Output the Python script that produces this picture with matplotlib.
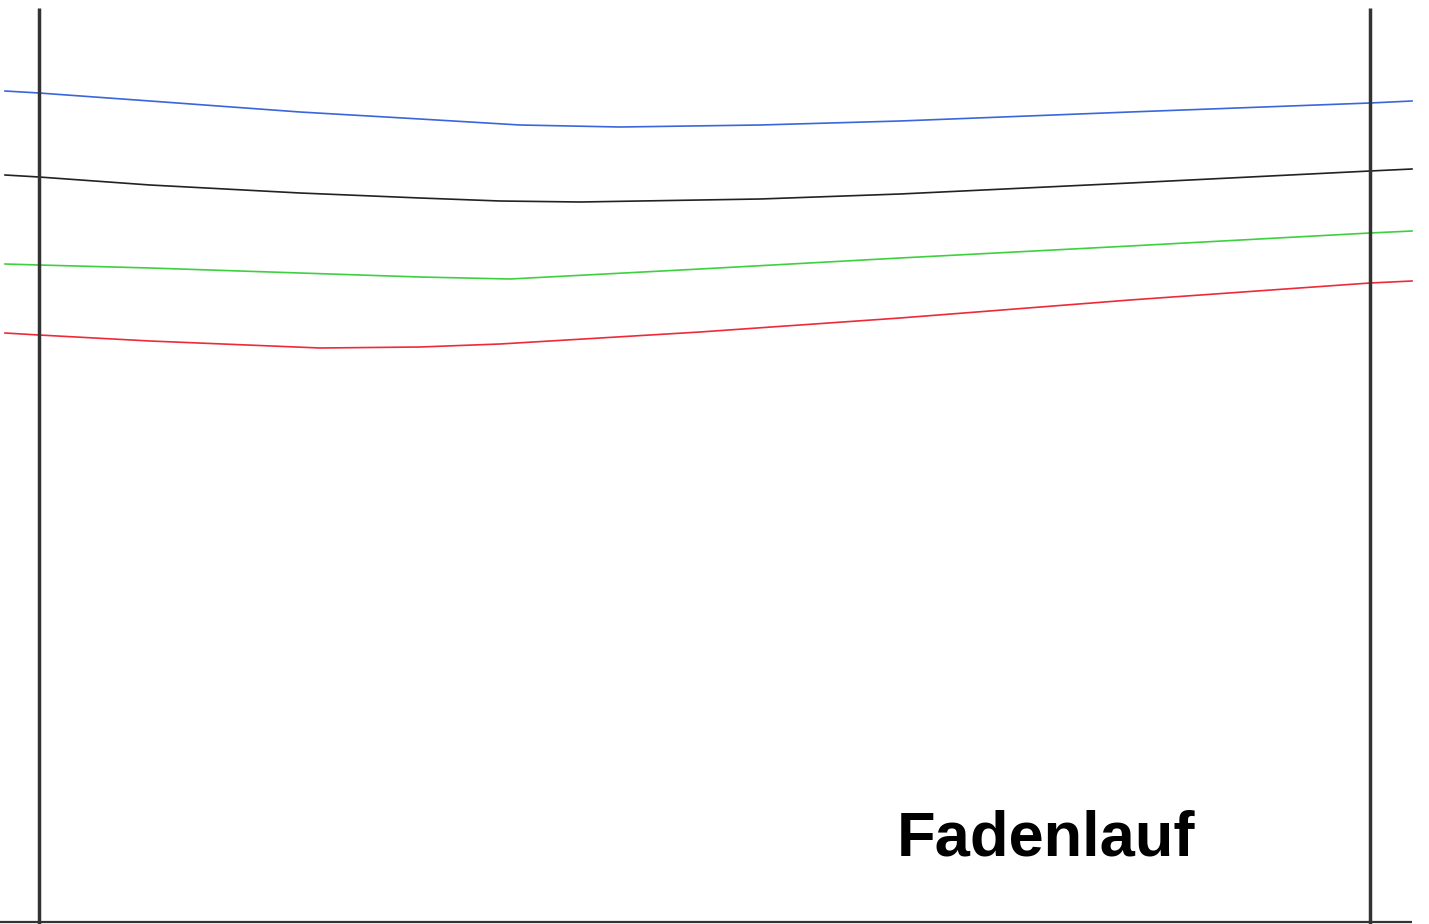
import matplotlib.pyplot as plt

# thread lines (x, y in pixel units, y downwards)
blue_x = [5, 39, 150, 300, 420, 520, 620, 760, 900, 1130, 1370, 1412]
blue_y = [91, 93, 101, 112, 119, 125, 127, 125, 121, 112, 103, 101]
black_x = [5, 39, 150, 300, 420, 500, 580, 760, 900, 1130, 1370, 1412]
black_y = [175, 177, 185, 193, 198, 201, 202, 199, 194, 183, 171, 169]
green_x = [5, 39, 150, 300, 420, 510, 700, 900, 1130, 1370, 1412]
green_y = [264, 265, 268, 273, 277, 279, 269, 258, 246, 233, 231]
red_x = [5, 39, 150, 320, 420, 500, 700, 900, 1130, 1370, 1412]
red_y = [333, 335, 341, 348, 347, 344, 332, 318, 300, 283, 281]

# frame
edge_x = [39, 1370]
edge_top = 8
bottom_y = 922
label = "Fadenlauf"

fig = plt.figure(figsize=(14.29, 9.24), dpi=100)
ax = fig.add_axes([0, 0, 1, 1])
ax.set_xlim(0, 1429)
ax.set_ylim(924, 0)
ax.axis("off")

ax.plot(blue_x, blue_y, color="#3a66dc", lw=1.2)
ax.plot(black_x, black_y, color="#222222", lw=1.2)
ax.plot(green_x, green_y, color="#3fd040", lw=1.2)
ax.plot(red_x, red_y, color="#ee2a38", lw=1.2)

for x in edge_x:
    ax.plot([x, x], [edge_top, 924], color="#333333", lw=2.5, solid_capstyle="butt")
ax.plot([0, 1412], [bottom_y, bottom_y], color="#333333", lw=1.6, solid_capstyle="butt")

ax.text(897, 855, label, fontsize=45.5, fontweight="bold",
        family="Liberation Sans", color="black", ha="left", va="baseline")

fig.savefig("out.png", dpi=100)
